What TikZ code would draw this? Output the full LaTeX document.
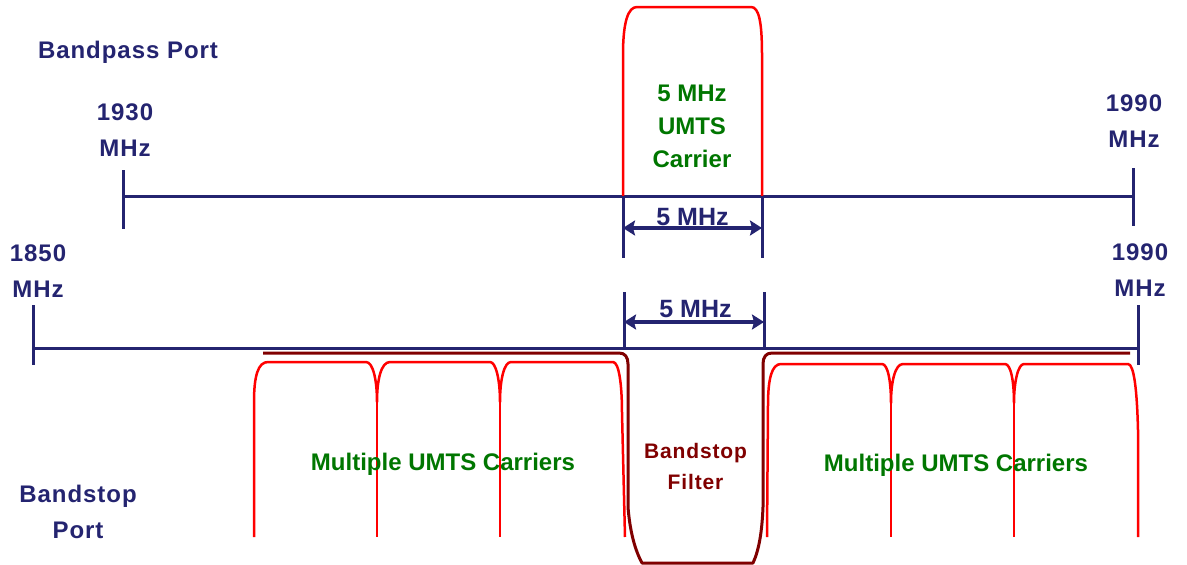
\documentclass[tikz,border=0pt]{standalone}
\usepackage{fontspec}
\setmainfont{Liberation Sans}
\newfontfamily\spacedfont[LetterSpace=4]{Liberation Sans}
\usetikzlibrary{arrows.meta}
\definecolor{navy}{RGB}{36,36,112}
\definecolor{dgreen}{RGB}{0,118,0}
\definecolor{maroon}{RGB}{128,0,0}
\definecolor{cred}{RGB}{255,0,0}
\begin{document}
\begin{tikzpicture}[x=1pt,y=-1pt,
  axis/.style={draw=navy,line width=3pt},
  tick/.style={draw=navy,line width=3pt},
  dimarrow/.style={draw=navy,line width=3.5pt,
    {Stealth[length=12pt,width=15pt,inset=2pt]}-{Stealth[length=12pt,width=15pt,inset=2pt]}},
  carrier/.style={draw=cred,line width=2.5pt,line join=round},
  passband/.style={draw=cred,line width=2.5pt,line join=round},
  stopband/.style={draw=maroon,line width=3pt,line join=round},
  navytxt/.style={text=navy,font=\spacedfont\bfseries\fontsize{24}{36}\selectfont,align=center,inner sep=0pt},
  greentxt/.style={text=dgreen,font=\bfseries\fontsize{24}{33}\selectfont,align=center,inner sep=0pt},
  maroontxt/.style={text=maroon,font=\spacedfont\bfseries\fontsize{21}{31}\selectfont,align=center,inner sep=0pt},
  dimtxt/.style={text=navy,font=\bfseries\fontsize{25}{30}\selectfont,inner sep=0pt,anchor=base}]
\useasboundingbox (0,0) rectangle (1187,565);

% ---------- coordinates ----------
\coordinate (tl) at (123,196);
\coordinate (tr) at (1133,196);
\coordinate (tlt) at (123,170);
\coordinate (tlb) at (123,229);
\coordinate (trt) at (1133,168);
\coordinate (trb) at (1133,226);
\coordinate (bl) at (33,348);
\coordinate (br) at (1138,348);
\coordinate (blt) at (33,305);
\coordinate (blb) at (33,365);
\coordinate (brt) at (1138,305);
\coordinate (brb) at (1138,365);
% dimension ticks
\coordinate (d1a) at (623,196);
\coordinate (d1b) at (623,258);
\coordinate (d2a) at (762,196);
\coordinate (d2b) at (762,258);
\coordinate (a1l) at (623,228);
\coordinate (a1r) at (762,228);
\coordinate (d3a) at (624,292);
\coordinate (d3b) at (624,348);
\coordinate (d4a) at (764,292);
\coordinate (d4b) at (764,348);
\coordinate (a2l) at (624,322);
\coordinate (a2r) at (764,322);

% ---------- axes ----------
\draw[axis] (tl) -- (tr);
\draw[tick] (tlt) -- (tlb);
\draw[tick] (trt) -- (trb);
\draw[axis] (bl) -- (br);
\draw[tick] (blt) -- (blb);
\draw[tick] (brt) -- (brb);

% ---------- passband filter (top) ----------
\draw[passband] (623,196) -- (623,55) .. controls (623,22) and (628,7) .. (637,7)
  -- (751,7) .. controls (759,7) and (762,22) .. (762,55) -- (762,196);

% ---------- dimension lines ----------
\draw[tick] (d1a) -- (d1b);
\draw[tick] (d2a) -- (d2b);
\draw[dimarrow] (a1l) -- (a1r);
\draw[tick] (d3a) -- (d3b);
\draw[tick] (d4a) -- (d4b);
\draw[dimarrow] (a2l) -- (a2r);

% ---------- bandstop filter ----------
\draw[stopband] (263,353) -- (619,353) .. controls (625,353) and (628,357) .. (628,364)
  -- (628,507) .. controls (630,532) and (635,550) .. (642,563)
  -- (753,563) .. controls (759,550) and (762,532) .. (763,507)
  -- (763,364) .. controls (763,357) and (766,353) .. (772,353) -- (1130,353);

% ---------- UMTS carriers, left group ----------
\draw[carrier] (254,537) -- (254,402) .. controls (254,376) and (258,362) .. (268,362)
  -- (366,362) .. controls (373,362) and (377,380) .. (377,402)
  .. controls (377,380) and (381,362) .. (390,362)
  -- (490,362) .. controls (496,362) and (500,380) .. (500,402)
  .. controls (500,380) and (504,362) .. (511,362)
  -- (613,362) .. controls (619,362) and (622,385) .. (622,413) -- (625,537);
\draw[carrier] (377,402) -- (377,537);
\draw[carrier] (500,402) -- (500,537);

% ---------- UMTS carriers, right group ----------
\draw[carrier] (767,537) -- (768,405) .. controls (768,378) and (772,364) .. (781,364)
  -- (882,364) .. controls (888,364) and (891,382) .. (891,403)
  .. controls (891,382) and (895,364) .. (903,364)
  -- (1005,364) .. controls (1011,364) and (1014,382) .. (1014,403)
  .. controls (1014,382) and (1018,364) .. (1024,364)
  -- (1128,364) .. controls (1134,364) and (1137,390) .. (1138,430) -- (1138,537);
\draw[carrier] (891,403) -- (891,537);
\draw[carrier] (1014,403) -- (1014,537);

% ---------- labels ----------
\node[navytxt,anchor=base] (bp) at (128,58) {Bandpass Port};
\node[navytxt] (f1930) at (125,130) {1930\\MHz};
\node[navytxt] (f1990a) at (1134,121.5) {1990\\MHz};
\node[navytxt] (f1850) at (38,271.5) {1850\\MHz};
\node[navytxt] (f1990b) at (1140,270.5) {1990\\MHz};
\node[navytxt] (bsp) at (78,511.5) {Bandstop\\Port};
\node[greentxt] (umts) at (692,126) {5 MHz\\UMTS\\Carrier};
\node[dimtxt] (w1) at (692.5,225) {5 MHz};
\node[dimtxt] (w2) at (695.5,317) {5 MHz};
\node[maroontxt] (bsf) at (695.5,466.5) {Bandstop\\Filter};
\node[greentxt,anchor=base] (mul) at (443,470) {Multiple UMTS Carriers};
\node[greentxt,anchor=base] (mur) at (956,471) {Multiple UMTS Carriers};
\end{tikzpicture}
\end{document}
